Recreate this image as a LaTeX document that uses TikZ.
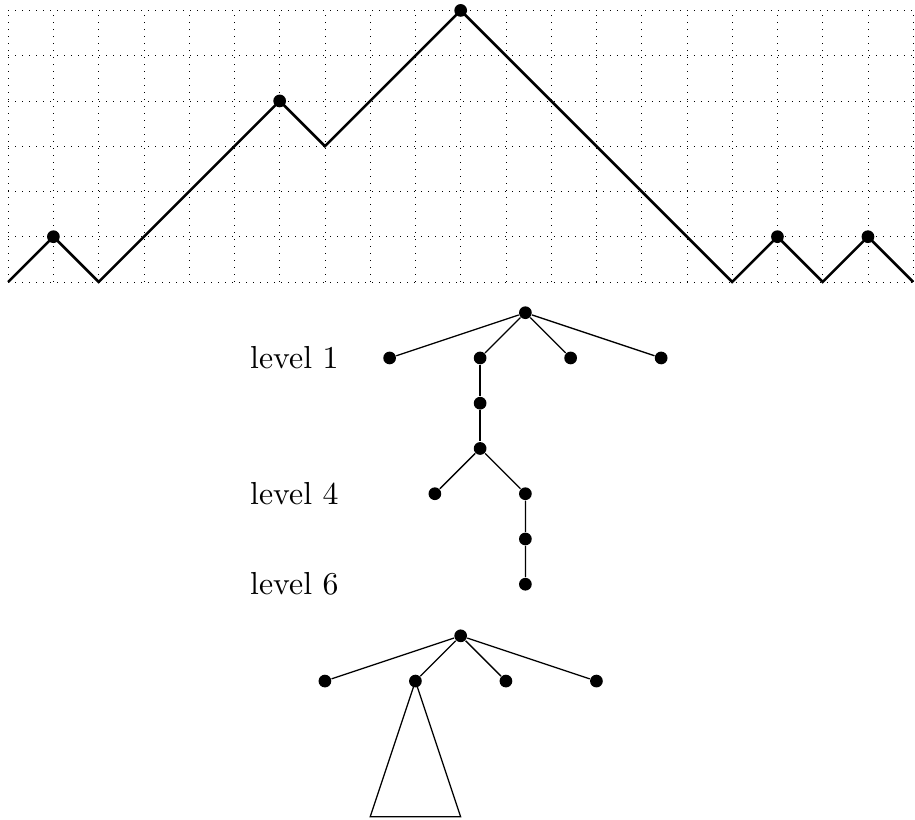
\documentclass[tikz,border=0pt]{standalone}
\begin{document}
\begin{tikzpicture}[x=0.5cm,y=0.5cm,
    dot/.style={circle,fill,inner sep=0pt,minimum size=4pt},
    lvl/.style={anchor=east}]
  \useasboundingbox (-0.18,-11.87) rectangle (20.04,6.23);
  % lattice path
  \draw[very thin,dotted,step=0.5cm] (0,0) grid (20,6);
  \draw[thick] (0,0) -- (1,1) -- (2,0) -- (6,4) -- (7,3) -- (10,6) -- (16,0)
    -- (17,1) -- (18,0) -- (19,1) -- (20,0);
  \foreach \p in {(1,1),(6,4),(10,6),(17,1),(19,1)}
    \fill \p circle (2pt);
  % tree of the path
  \node[dot] (r) at (11.43,-0.68) {};
  \node[dot] (a1) at (8.43,-1.68) {};
  \node[dot] (a2) at (10.43,-1.68) {};
  \node[dot] (a3) at (12.43,-1.68) {};
  \node[dot] (a4) at (14.43,-1.68) {};
  \node[dot] (b1) at (10.43,-2.68) {};
  \node[dot] (b2) at (10.43,-3.68) {};
  \node[dot] (c1) at (9.43,-4.68) {};
  \node[dot] (c2) at (11.43,-4.68) {};
  \node[dot] (d1) at (11.43,-5.68) {};
  \node[dot] (d2) at (11.43,-6.68) {};
  \draw (r) -- (a1);
  \draw (r) -- (a2);
  \draw (r) -- (a3);
  \draw (r) -- (a4);
  \draw (a2) -- (b1) -- (b2);
  \draw (b2) -- (c1);
  \draw (b2) -- (c2) -- (d1) -- (d2);
  \node[lvl] (l1) at (7.55,-1.68) {level 1};
  \node[lvl] (l4) at (7.55,-4.68) {level 4};
  \node[lvl] (l6) at (7.55,-6.68) {level 6};
  % tree with a subtree
  \node[dot] (s) at (10,-7.82) {};
  \node[dot] (e1) at (7,-8.82) {};
  \node[dot] (e2) at (9,-8.82) {};
  \node[dot] (e3) at (11,-8.82) {};
  \node[dot] (e4) at (13,-8.82) {};
  \draw (s) -- (e1);
  \draw (s) -- (e2);
  \draw (s) -- (e3);
  \draw (s) -- (e4);
  \coordinate (tl) at (8,-11.82);
  \coordinate (tr) at (10,-11.82);
  \draw (e2.center) -- (tl) -- (tr) -- cycle;
\end{tikzpicture}
\end{document}
